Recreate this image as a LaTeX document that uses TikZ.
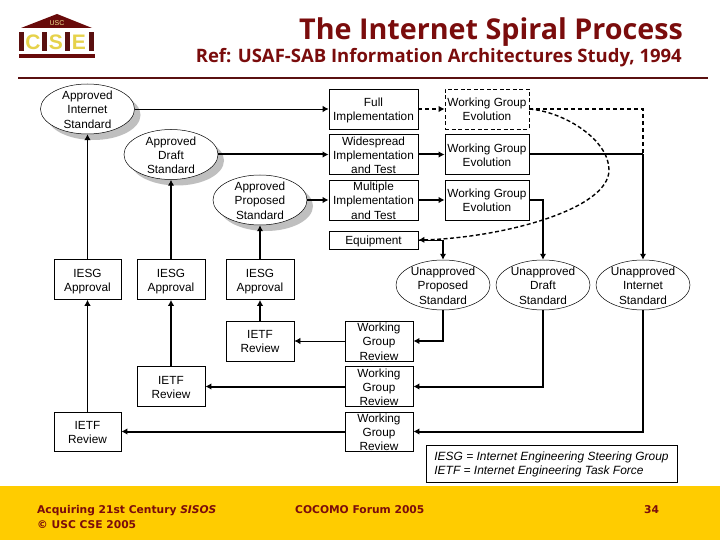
\documentclass[tikz,border=0pt]{standalone}
\usepackage{fontspec}
\setmainfont{Liberation Sans}
\newfontfamily\headfont{Open Sans}
\newfontfamily\footfont{DejaVu Sans}
\usetikzlibrary{arrows.meta,shapes.geometric,shadows,calc}
\definecolor{usc}{HTML}{7A0C0C}
\definecolor{rulec}{HTML}{5A1010}
\definecolor{gold}{HTML}{FFCC00}
\definecolor{logoy}{HTML}{E6D24A}
\newcommand{\tx}[1]{\makebox[0pt]{\raisebox{\dimexpr-.25em-2pt\relax}[0pt][0pt]{\begin{tabular}[c]{@{}c@{}}#1\end{tabular}}}}
\tikzset{
  every node/.style={font=\fontsize{11.8}{14.3}\selectfont},
  bx/.style={draw=black,line width=.8pt,rectangle,inner sep=0pt,minimum width=#1},
  bx/.default=68pt,
  h40/.style={minimum height=40pt},
  ell/.style={draw=black,line width=.5pt,ellipse,fill=white,inner sep=0pt,minimum width=94pt,minimum height=50pt},
  shell/.style={ell,drop shadow={shadow xshift=6pt,shadow yshift=-6pt,fill=black!25,opacity=1}},
  thinl/.style={draw=black,line width=.8pt},
  thickl/.style={draw=black,line width=2pt},
  tip/.style={-{Latex[length=6pt,width=6.5pt]}},
  dashl/.style={draw=black,line width=1.2pt,dash pattern=on 4pt off 3pt},
  dashc/.style={draw=black,line width=1.4pt,dash pattern=on 4pt off 2.5pt},
  logoletter/.style={text=logoy,font=\fontsize{21}{22}\bfseries\selectfont},
}
\begin{document}
\begin{tikzpicture}[x=1pt,y=-1pt]
\useasboundingbox (0,0) rectangle (720,540);
\fill[white] (0,0) rectangle (720,540);
% footer band and rule
\fill[gold] (0,486) rectangle (720,540);
\fill[rulec] (18,77) rectangle (708,79);
% logo
\fill[usc!85!black] (57,14) -- (92,28) -- (21,28) -- cycle;
\node[text=logoy!60!white,font=\fontsize{7}{8}\selectfont] (lusc) at (57,23) {USC};
\foreach \px in {19,42,65,89} {\fill[rulec] (\px,32) rectangle ++(5,19);}
\node[logoletter] (lc) at (33,42) {C};
\node[logoletter] (ls) at (56,42) {S};
\node[logoletter] (le) at (79,42) {E};
\fill[usc!85!black] (19,54) rectangle (95,58);
% titles
\node[anchor=base east,inner sep=0pt,text=usc,font=\headfont\bfseries\fontsize{28.7}{30}\selectfont] (title) at (683,40) {The Internet Spiral Process};
\node[anchor=base east,inner sep=0pt,text=usc,font=\headfont\bfseries\fontsize{18.5}{20}\selectfont] (sub) at (682,63) {Ref: USAF-SAB Information Architectures Study, 1994};
% approved ellipses
\node[shell] (ai) at (87.5,109) {\tx{Approved\\Internet\\Standard}};
\node[shell] (ad) at (171,154.5) {\tx{Approved\\Draft\\Standard}};
\node[shell] (ap) at (260,200) {\tx{Approved\\Proposed\\Standard}};
% implementation column
\node[bx=89pt,h40] (fi) at (373.5,109) {\tx{Full\\Implementation}};
\node[bx=89pt,h40] (wi) at (373.5,154.5) {\tx{Widespread\\Implementation\\and Test}};
\node[bx=89pt,h40] (mi) at (373.5,200) {\tx{Multiple\\Implementation\\and Test}};
\node[bx=89pt,minimum height=18pt] (eq) at (373.5,240) {\tx{Equipment}};
% working group evolution
\node[draw=black,line width=.8pt,dash pattern=on 4pt off 2.5pt,rectangle,inner sep=0pt,minimum width=84pt,h40] (w1) at (487,109) {\tx{Working Group\\Evolution}};
\node[bx=84pt,h40] (w2) at (487,154.5) {\tx{Working Group\\Evolution}};
\node[bx=84pt,h40] (w3) at (487,200) {\tx{Working Group\\Evolution}};
% unapproved ellipses
\node[ell] (up) at (443,285) {\tx{Unapproved\\Proposed\\Standard}};
\node[ell] (ud) at (543,285) {\tx{Unapproved\\Draft\\Standard}};
\node[ell] (ui) at (643,285) {\tx{Unapproved\\Internet\\Standard}};
% IESG
\node[bx=67pt,h40] (g1) at (87.5,279.5) {\tx{IESG\\Approval}};
\node[bx=68pt,h40] (g2) at (171,279.5) {\tx{IESG\\Approval}};
\node[bx=68pt,h40] (g3) at (260,279.5) {\tx{IESG\\Approval}};
% IETF
\node[bx=68pt,h40] (t3) at (260,341) {\tx{IETF\\Review}};
\node[bx=68pt,h40] (t2) at (171,386.5) {\tx{IETF\\Review}};
\node[bx=67pt,minimum height=39pt] (t1) at (87.5,431.5) {\tx{IETF\\Review}};
% WG review
\node[bx=68pt,h40] (r3) at (379,341) {\tx{Working\\Group\\Review}};
\node[bx=68pt,h40] (r2) at (379,386.5) {\tx{Working\\Group\\Review}};
\node[bx=68pt,minimum height=39pt] (r1) at (379,431.5) {\tx{Working\\Group\\Review}};
% legend
\node[bx=251pt,minimum height=37pt,font=\fontsize{11.95}{14}\itshape\selectfont] (leg) at (551.5,463.5) {\makebox[0pt]{\raisebox{\dimexpr-.25em-1pt\relax}[0pt][0pt]{\begin{tabular}[c]{@{}l@{}}IESG = Internet Engineering Steering Group\\IETF = Internet Engineering Task Force\end{tabular}}}};
% footer text
\node[anchor=base west,inner sep=0pt,text=usc,align=left,font=\footfont\bfseries\fontsize{10.7}{14.5}\selectfont] (f1) at (37,528) {Acquiring 21st Century \textit{SISOS}\\ \copyright\ USC CSE 2005};
\node[anchor=base west,inner sep=0pt,text=usc,font=\footfont\bfseries\fontsize{10.7}{14.3}\selectfont] (f2) at (295,513) {COCOMO Forum 2005};
\node[anchor=base west,inner sep=0pt,text=usc,font=\footfont\bfseries\fontsize{10.7}{14.3}\selectfont] (f3) at (644,513) {34};
% connectors
\draw[thinl,tip] (ai.east) -- (fi.west);
\draw[dashl,tip] (fi.east) -- (w1.west);
\coordinate (jn1) at (ui.north |- w1.east);
\coordinate (jn2) at (ui.north |- w2.east);
\draw[dashl] (w1.east) -- (jn1) -- (jn2);
\draw[thickl] (w2.east) -- (jn2);
\draw[thickl,tip] (jn2) -- (ui.north);
\draw[thickl,tip] (ad.east) -- (wi.west);
\draw[thickl,tip] (ap.east) -- (mi.west);
\draw[thickl,tip] (wi.east) -- (w2.west);
\draw[thickl,tip] (mi.east) -- (w3.west);
\draw[thickl,tip] (w3.east) -- (w3.east -| ud.north) -- (ud.north);
% dashed curve to equipment
\draw[dashc,tip] (w1.east) .. controls (565,112) and (609,140) .. (609,170) .. controls (609,210) and (500,238) .. (eq.east);
\coordinate (jn3) at (up.north |- eq.east);
\draw[thinl] (eq.east) -- (jn3);
\draw[thickl,tip] (jn3) -- (up.north);
% down to WG review
\draw[thickl,tip] (up.south) -- (up.south |- r3.east) -- (r3.east);
\draw[thickl,tip] (ud.south) -- (ud.south |- r2.east) -- (r2.east);
\draw[thickl,tip] (ui.south) -- (ui.south |- r1.east) -- (r1.east);
% WG review to IETF
\draw[thinl,tip] (r3.west) -- (t3.east);
\draw[thickl,tip] (r2.west) -- (t2.east);
\draw[thickl,tip] (r1.west) -- (t1.east);
% IETF to IESG
\draw[thinl,tip] (t1.north) -- (g1.south);
\draw[thickl,tip] (t2.north) -- (g2.south);
\draw[thickl,tip] (t3.north) -- (g3.south);
% IESG to approved
\draw[thinl,tip] (g1.north) -- (ai.south);
\draw[thickl,tip] (g2.north) -- (ad.south);
\draw[thickl,tip] (g3.north) -- (ap.south);
\end{tikzpicture}
\end{document}
